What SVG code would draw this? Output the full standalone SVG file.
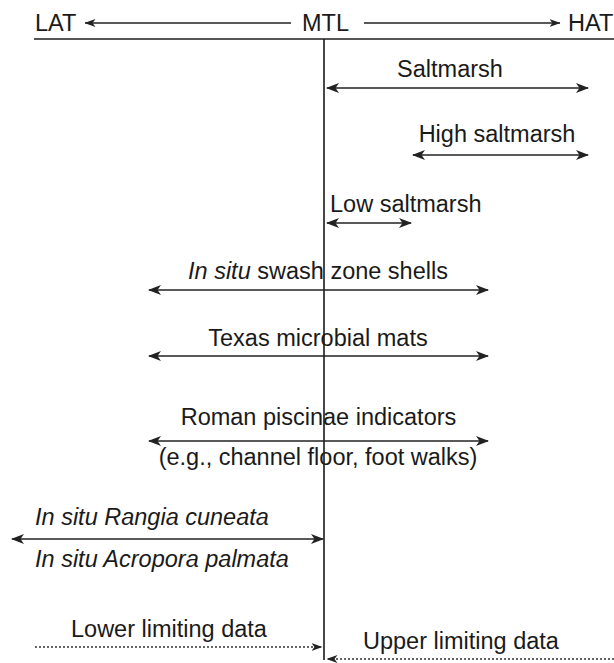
<svg xmlns="http://www.w3.org/2000/svg" width="614" height="663" viewBox="0 0 614 663">
<defs>
<marker id="ah" viewBox="0 0 13 10" markerWidth="13" markerHeight="10" refX="12" refY="5" orient="auto-start-reverse" markerUnits="userSpaceOnUse">
<path d="M0,0 L13,5 L0,10 L3.5,5 Z" fill="#222"/>
</marker>
<marker id="ahs" viewBox="0 0 11 9" markerWidth="11" markerHeight="9" refX="10.5" refY="4.5" orient="auto-start-reverse" markerUnits="userSpaceOnUse">
<path d="M0,0.5 L11,4.5 L0,8.5 L3,4.5 Z" fill="#222"/>
</marker>
</defs>
<style>
text{font-family:"Liberation Sans",Arial,Helvetica,sans-serif;font-size:23.5px;fill:#1a1a1a}
.it{font-style:italic}
.arr{stroke:#222;stroke-width:1.6;fill:none;marker-start:url(#ah);marker-end:url(#ah)}
.dot{stroke:#333;stroke-width:1.5;fill:none;stroke-dasharray:2 2;marker-end:url(#ahs)}
.hd{stroke:#222;stroke-width:1.3;fill:none;marker-end:url(#ahs)}
</style>
<rect width="614" height="663" fill="#fff"/>
<g id="axis">
<text x="35" y="31">LAT</text>
<text x="302" y="31">MTL</text>
<text x="568" y="31">HAT</text>
<line class="hd" x1="291" y1="23" x2="85" y2="23"/>
<line class="hd" x1="364" y1="23" x2="560" y2="23"/>
<line x1="34" y1="39" x2="614" y2="39" stroke="#555" stroke-width="2"/>
<line x1="324" y1="39" x2="324" y2="660" stroke="#1a1a1a" stroke-width="1.6"/>
</g>
<g id="connectors">
<line class="arr" x1="327" y1="88" x2="588" y2="88"/>
<line class="arr" x1="413" y1="155" x2="588" y2="155"/>
<line class="arr" x1="327" y1="223" x2="411" y2="223"/>
<line class="arr" x1="149" y1="290" x2="488" y2="290"/>
<line class="arr" x1="149" y1="356" x2="488" y2="356"/>
<line class="arr" x1="149" y1="441" x2="488" y2="441"/>
<line class="arr" x1="12" y1="539" x2="323" y2="539"/>
<line class="dot" x1="35" y1="647" x2="322" y2="647"/>
<line class="dot" x1="614" y1="659" x2="327" y2="659"/>
</g>
<g id="saltmarsh"><text x="450" y="77" text-anchor="middle">Saltmarsh</text></g>
<g id="high-saltmarsh"><text x="497" y="142" text-anchor="middle">High saltmarsh</text></g>
<g id="low-saltmarsh"><text x="330" y="212">Low saltmarsh</text></g>
<g id="swash"><text x="318" y="279" text-anchor="middle"><tspan class="it">In situ</tspan> swash zone shells</text></g>
<g id="texas"><text x="318" y="346" text-anchor="middle">Texas microbial mats</text></g>
<g id="roman">
<text x="318.5" y="425" text-anchor="middle">Roman piscinae indicators</text>
<text x="318" y="465" text-anchor="middle">(e.g., channel floor, foot walks)</text>
</g>
<g id="rangia"><text class="it" x="35" y="525">In situ Rangia cuneata</text></g>
<g id="acropora"><text class="it" x="35" y="567">In situ Acropora palmata</text></g>
<g id="lower"><text x="71" y="637">Lower limiting data</text></g>
<g id="upper"><text x="363" y="649">Upper limiting data</text></g>
</svg>
